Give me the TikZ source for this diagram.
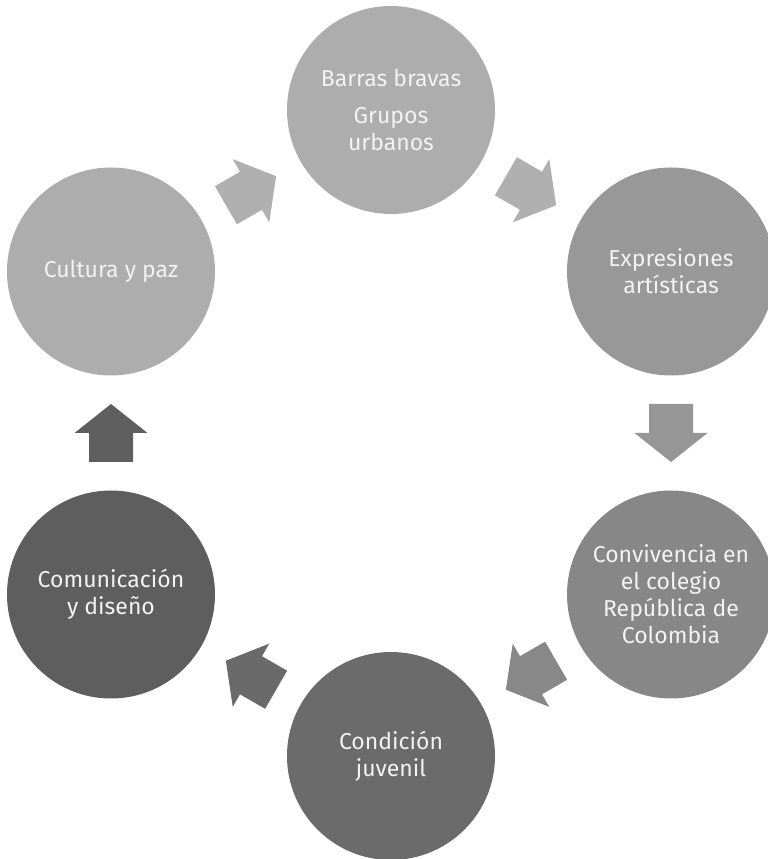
\documentclass[tikz,border=0pt]{standalone}
\usepackage{fontspec}
\setmainfont{Fira Sans}
\usetikzlibrary{calc}
\definecolor{cB}{RGB}{173,173,173}
\definecolor{cE}{RGB}{152,152,152}
\definecolor{cC}{RGB}{135,135,135}
\definecolor{cJ}{RGB}{107,107,107}
\definecolor{cM}{RGB}{94,94,94}
\definecolor{cP}{RGB}{173,173,173}
\definecolor{aA}{RGB}{176,176,176}
\definecolor{aB}{RGB}{176,176,176}
\definecolor{aC}{RGB}{150,150,150}
\definecolor{aD}{RGB}{136,136,136}
\definecolor{aE}{RGB}{106,106,106}
\definecolor{aF}{RGB}{95,95,95}
\definecolor{txt}{RGB}{242,242,242}
\newcommand\blockarrow[4]{%
  \fill[#4, shift={($(#1)!0.5!(#2)$)}, rotate=#3]
    (-29,-22) -- (0,-22) -- (0,-36.5) -- (29,0) -- (0,36.5) -- (0,22) -- (-29,22) -- cycle;}
\begin{document}
\begin{tikzpicture}[x=1pt,y=1pt,
  bub/.style={circle, minimum size=208pt, inner sep=0pt, text=txt,
    font=\fontsize{23}{27}\selectfont, align=center}]
\useasboundingbox (0,0) rectangle (768,859);
\node[bub, fill=cB] (b) at (391,749) {Barras bravas\\[10pt]Grupos\\urbanos};
\node[bub, fill=cE] (e) at (671,587.5) {Expresiones\\artísticas};
\node[bub, fill=cC] (c) at (671,264.5) {Convivencia en\\el colegio\\República de\\Colombia};
\node[bub, fill=cJ] (j) at (391,103) {Condición\\juvenil};
\node[bub, fill=cM] (m) at (111,264.5) {Comunicación\\y diseño};
\node[bub, fill=cP] (p) at (111,587.5) {Cultura y paz};
\blockarrow{p}{b}{30}{aA}
\blockarrow{b}{e}{-30}{aB}
\blockarrow{e}{c}{-90}{aC}
\blockarrow{c}{j}{210}{aD}
\blockarrow{j}{m}{150}{aE}
\blockarrow{m}{p}{90}{aF}
\end{tikzpicture}
\end{document}
